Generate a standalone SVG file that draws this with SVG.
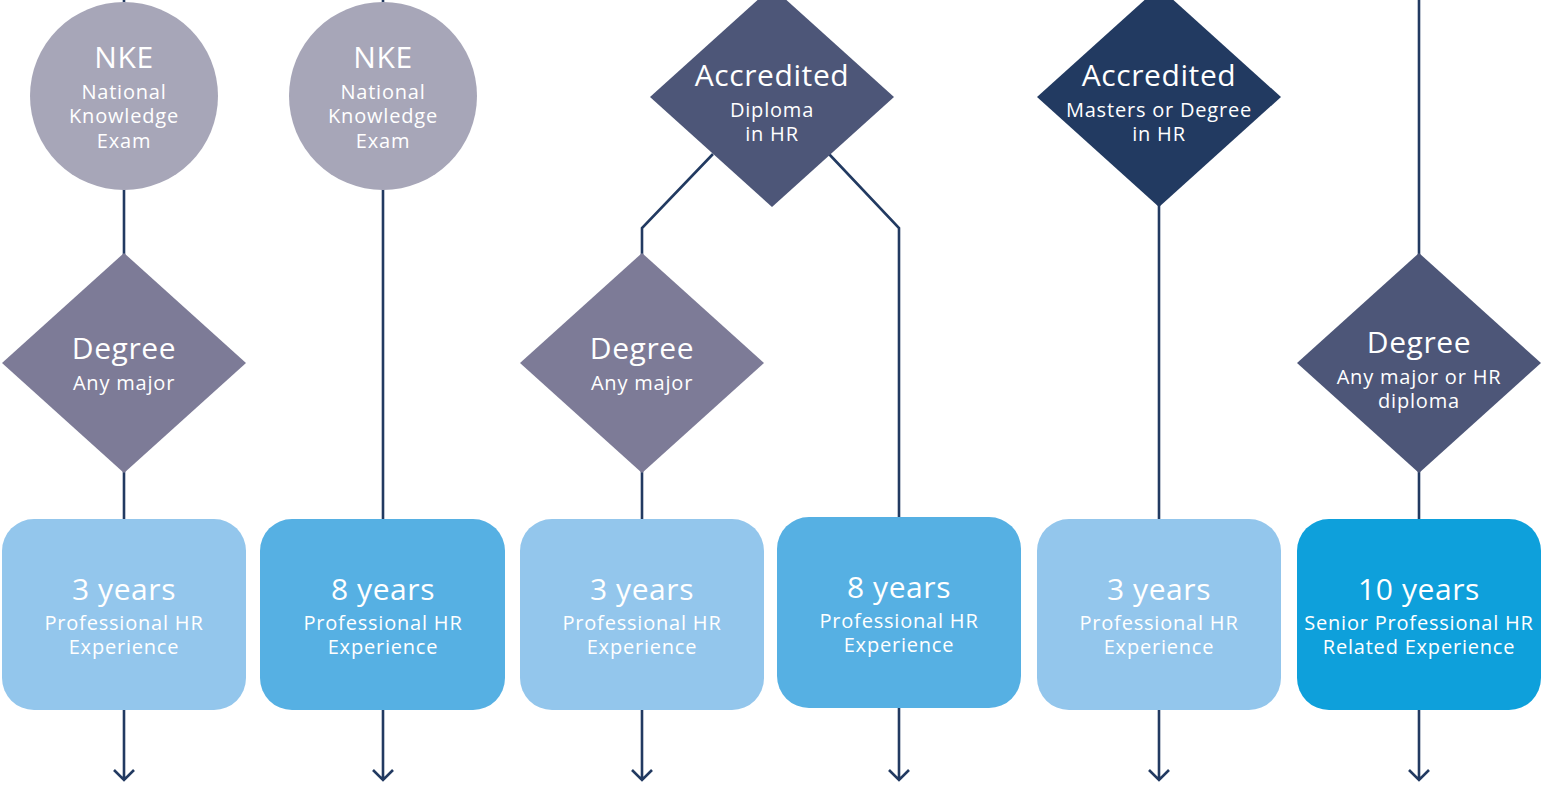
<svg xmlns="http://www.w3.org/2000/svg" width="1543" height="786" viewBox="0 0 1543 786">
<defs>
<style>
.ln{fill:none;stroke:#223a61;stroke-width:2.6}
.t{font-family:"Open Sans","Noto Sans",sans-serif;fill:#ffffff;text-anchor:middle}
.h{font-size:30px;letter-spacing:0.6px}
.s{font-size:20px;letter-spacing:0.8px}
.circ{fill:#a7a6b8}
.dA{fill:#7d7b97}
.dB{fill:#4d5678}
.dC{fill:#223a61}
.bL{fill:#93c6ec}
.bM{fill:#56b0e3}
.bD{fill:#0ea0db}
</style>
</defs>
<rect width="1543" height="786" fill="#ffffff"/>
<g id="connectors">
<path class="ln" d="M124 0V780M114 770L124 780L134 770"/>
<path class="ln" d="M383 0V780M373 770L383 780L393 770"/>
<path class="ln" d="M713 154L642 228V780M632 770L642 780L652 770"/>
<path class="ln" d="M829 154L899 228V780M889 770L899 780L909 770"/>
<path class="ln" d="M1159 200V780M1149 770L1159 780L1169 770"/>
<path class="ln" d="M1419 0V780M1409 770L1419 780L1429 770"/>
</g>
<g id="nke1">
<circle class="circ" cx="124" cy="96" r="94"/>
<text class="t h" x="124" y="68">NKE</text>
<text class="t s" x="124" y="99">National</text>
<text class="t s" x="124" y="123">Knowledge</text>
<text class="t s" x="124" y="148">Exam</text>
</g>
<g id="nke2">
<circle class="circ" cx="383" cy="96" r="94"/>
<text class="t h" x="383" y="68">NKE</text>
<text class="t s" x="383" y="99">National</text>
<text class="t s" x="383" y="123">Knowledge</text>
<text class="t s" x="383" y="148">Exam</text>
</g>
<g id="accDiploma">
<polygon class="dB" points="772,-13 894,97 772,207 650,97"/>
<text class="t h" x="772" y="86">Accredited</text>
<text class="t s" x="772" y="117">Diploma</text>
<text class="t s" x="772" y="141">in HR</text>
</g>
<g id="accMasters">
<polygon class="dC" points="1159,-13 1281,97 1159,207 1037,97"/>
<text class="t h" x="1159" y="86">Accredited</text>
<text class="t s" x="1159" y="117">Masters or Degree</text>
<text class="t s" x="1159" y="141">in HR</text>
</g>
<g id="degree1">
<polygon class="dA" points="124,253 246,363 124,473 2,363"/>
<text class="t h" x="124" y="359">Degree</text>
<text class="t s" x="124" y="390">Any major</text>
</g>
<g id="degree3">
<polygon class="dA" points="642,253 764,363 642,473 520,363"/>
<text class="t h" x="642" y="359">Degree</text>
<text class="t s" x="642" y="390">Any major</text>
</g>
<g id="degree6">
<polygon class="dB" points="1419,253 1541,363 1419,473 1297,363"/>
<text class="t h" x="1419" y="353">Degree</text>
<text class="t s" x="1419" y="384">Any major or HR</text>
<text class="t s" x="1419" y="408">diploma</text>
</g>
<g id="box1">
<rect class="bL" x="2" y="519" width="244" height="191" rx="32"/>
<text class="t h" x="124" y="600">3 years</text>
<text class="t s" x="124" y="630">Professional HR</text>
<text class="t s" x="124" y="654">Experience</text>
</g>
<g id="box2">
<rect class="bM" x="260" y="519" width="245" height="191" rx="32"/>
<text class="t h" x="383" y="600">8 years</text>
<text class="t s" x="383" y="630">Professional HR</text>
<text class="t s" x="383" y="654">Experience</text>
</g>
<g id="box3">
<rect class="bL" x="520" y="519" width="244" height="191" rx="32"/>
<text class="t h" x="642" y="600">3 years</text>
<text class="t s" x="642" y="630">Professional HR</text>
<text class="t s" x="642" y="654">Experience</text>
</g>
<g id="box4">
<rect class="bM" x="777" y="517" width="244" height="191" rx="32"/>
<text class="t h" x="899" y="598">8 years</text>
<text class="t s" x="899" y="628">Professional HR</text>
<text class="t s" x="899" y="652">Experience</text>
</g>
<g id="box5">
<rect class="bL" x="1037" y="519" width="244" height="191" rx="32"/>
<text class="t h" x="1159" y="600">3 years</text>
<text class="t s" x="1159" y="630">Professional HR</text>
<text class="t s" x="1159" y="654">Experience</text>
</g>
<g id="box6">
<rect class="bD" x="1297" y="519" width="244" height="191" rx="32"/>
<text class="t h" x="1419" y="600">10 years</text>
<text class="t s" x="1419" y="630">Senior Professional HR</text>
<text class="t s" x="1419" y="654">Related Experience</text>
</g>
</svg>
